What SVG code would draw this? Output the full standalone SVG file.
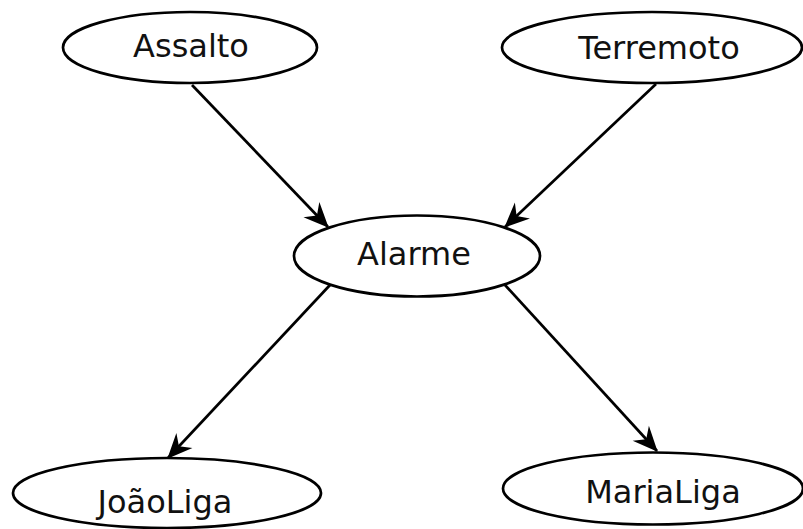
<svg xmlns="http://www.w3.org/2000/svg" width="803" height="529" viewBox="0 0 803 529">
<style>
.node ellipse{fill:#fff;stroke:#000;stroke-width:2.7}
.node text{font-family:"DejaVu Sans",sans-serif;font-size:32px;fill:#111;text-anchor:middle}
.edge{stroke:#000;stroke-width:2.7;fill:none;marker-end:url(#ah)}
</style>
<defs>
<marker id="ah" markerUnits="userSpaceOnUse" markerWidth="28" markerHeight="26" viewBox="-26 -13 28 26" refX="0" refY="0" orient="auto">
<path d="M1,0 L-24,-11 L-16,0 L-24,11 Z" fill="#000"/>
</marker>
</defs>
<rect width="803" height="529" fill="#fff"/>
<g id="connectors">
<line class="edge" x1="192" y1="85" x2="328" y2="227"/>
<line class="edge" x1="656" y1="84" x2="505" y2="227"/>
<line class="edge" x1="330" y1="285" x2="168" y2="458"/>
<line class="edge" x1="505" y1="285" x2="657" y2="451"/>
</g>
<g id="Assalto" class="node">
<ellipse cx="190" cy="47.5" rx="127" ry="35.5"/>
<text x="191" y="57">Assalto</text>
</g>
<g id="Terremoto" class="node">
<ellipse cx="652" cy="47.5" rx="150" ry="35.5"/>
<text x="659" y="59">Terremoto</text>
</g>
<g id="Alarme" class="node">
<ellipse cx="417" cy="256" rx="123" ry="40.5"/>
<text x="414" y="265">Alarme</text>
</g>
<g id="JoaoLiga" class="node">
<ellipse cx="167" cy="493" rx="154" ry="35"/>
<text x="165" y="513">JoãoLiga</text>
</g>
<g id="MariaLiga" class="node">
<ellipse cx="653" cy="488.5" rx="150" ry="36"/>
<text x="663" y="503">MariaLiga</text>
</g>
</svg>
